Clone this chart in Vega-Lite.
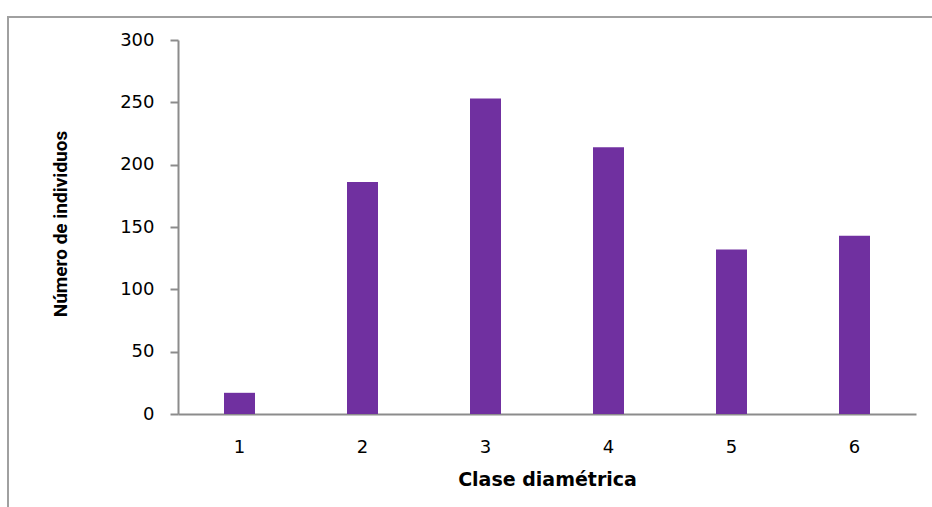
{
  "$schema": "https://vega.github.io/schema/vega-lite/v6.json",
  "description": "Número de individuos por clase diamétrica; the view outline serves as the chart frame and the axes are pulled inside it.",
  "width": 926,
  "height": 493,
  "autosize": {"type": "none"},
  "padding": {"left": 8, "top": 17, "right": 0, "bottom": 0},
  "background": "white",
  "config": {
    "view": {"stroke": "#a0a0a0", "strokeWidth": 2}
  },
  "data": {
    "values": [
      {"clase": "1", "individuos": 17},
      {"clase": "2", "individuos": 186},
      {"clase": "3", "individuos": 253},
      {"clase": "4", "individuos": 214},
      {"clase": "5", "individuos": 132},
      {"clase": "6", "individuos": 143}
    ]
  },
  "mark": {"type": "bar", "color": "#7030A0"},
  "encoding": {
    "x": {
      "field": "clase",
      "type": "ordinal",
      "sort": null,
      "scale": {"range": [170, 908], "paddingInner": 0.748, "paddingOuter": 0.374},
      "axis": {
        "title": "Clase diamétrica",
        "labelAngle": 0,
        "offset": -96,
        "ticks": false,
        "tickSize": 0,
        "labelPadding": 38,
        "labelBaseline": "alphabetic",
        "labelFont": "DejaVu Sans",
        "labelFontSize": 18,
        "labelColor": "#000000",
        "domainColor": "#8c8c8c",
        "domainWidth": 2,
        "titleFont": "DejaVu Sans",
        "titleFontSize": 19,
        "titleFontWeight": "bold",
        "titleColor": "#000000",
        "titleBaseline": "alphabetic",
        "titleY": 71
      }
    },
    "y": {
      "field": "individuos",
      "type": "quantitative",
      "scale": {"domain": [0, 300], "range": [397, 23], "nice": false},
      "axis": {
        "title": "Número de individuos",
        "values": [0, 50, 100, 150, 200, 250, 300],
        "offset": -170,
        "grid": false,
        "tickSize": 8,
        "tickColor": "#8c8c8c",
        "tickWidth": 2,
        "domainColor": "#8c8c8c",
        "domainWidth": 2,
        "labelPadding": 16,
        "labelFont": "DejaVu Sans",
        "labelFontSize": 18,
        "labelColor": "#000000",
        "titleFont": "Roboto",
        "titleFontSize": 19,
        "titleFontWeight": "bold",
        "titleColor": "#000000",
        "titleBaseline": "alphabetic",
        "titleX": -112,
        "titleY": 206.5
      }
    }
  }
}
